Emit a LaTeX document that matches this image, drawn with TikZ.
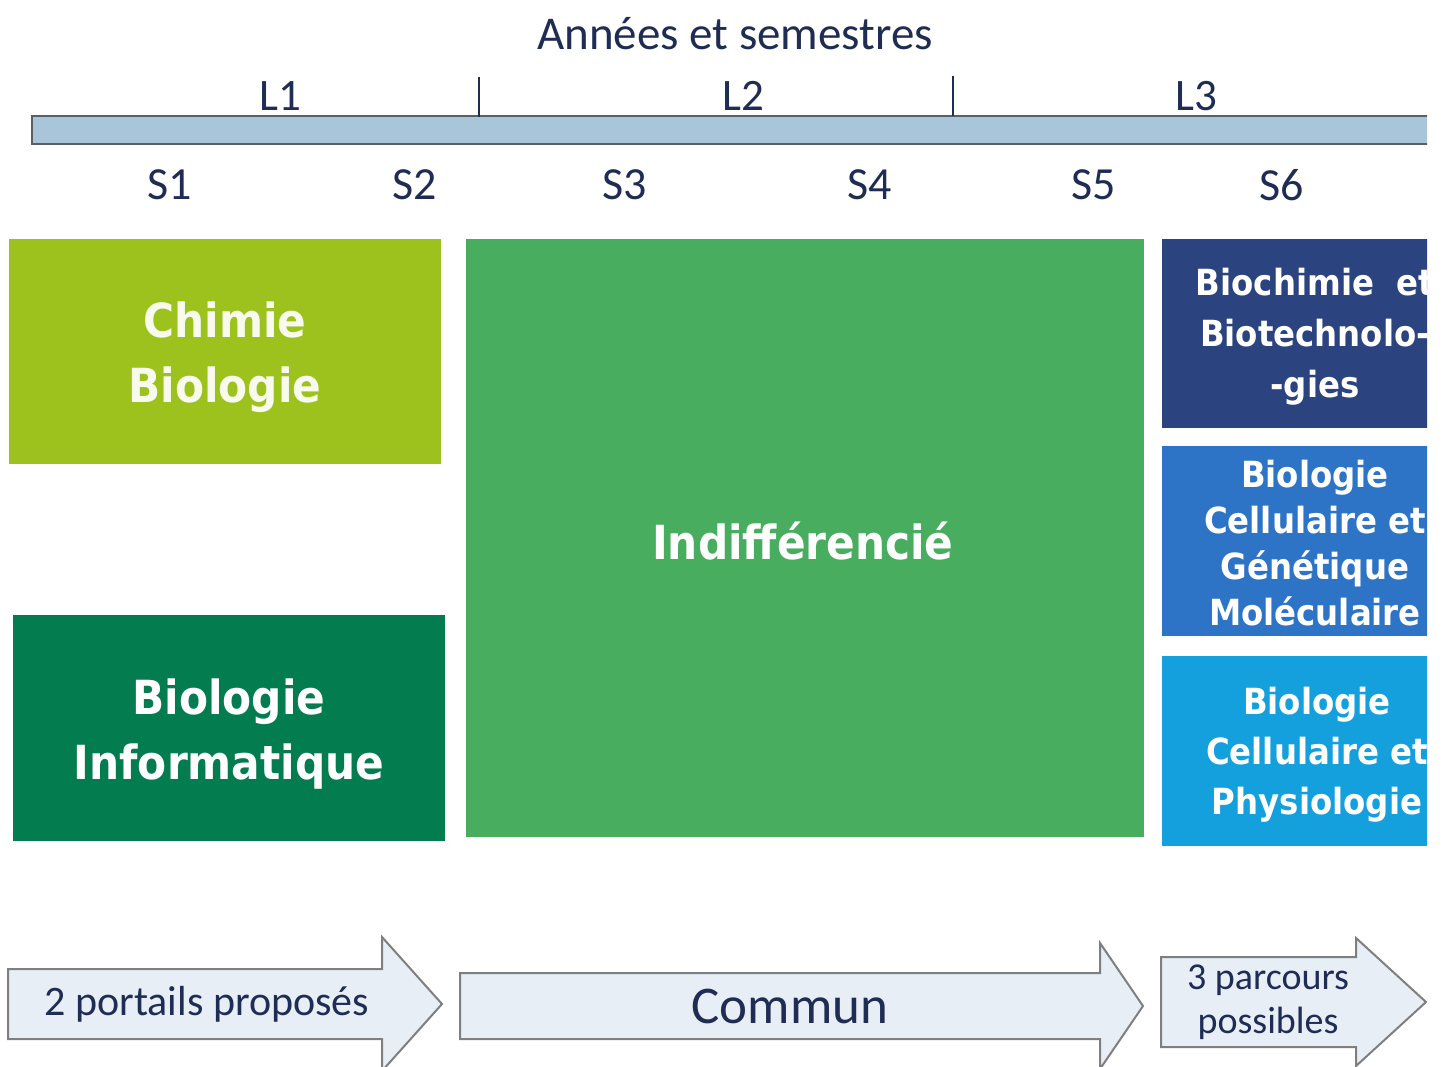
\documentclass[tikz,border=0pt]{standalone}
\usepackage{fontspec}
\setmainfont{Carlito}
\newfontfamily\boxfont{DejaVu Sans Condensed}
\definecolor{navy}{HTML}{1F2D55}
\definecolor{barfill}{HTML}{A8C5DA}
\definecolor{barline}{HTML}{5A5F66}
\definecolor{chimie}{HTML}{9DC21E}
\definecolor{bioinfo}{HTML}{037C50}
\definecolor{indiff}{HTML}{49AD5F}
\definecolor{biochim}{HTML}{2B437F}
\definecolor{bcgm}{HTML}{2D74C7}
\definecolor{bcp}{HTML}{14A0DC}
\definecolor{arrfill}{HTML}{E8EEF6}
\definecolor{arrline}{HTML}{7F7F7F}
\tikzset{
  yearlbl/.style={text=navy, font=\fontsize{22.5}{26}\selectfont, inner sep=0pt},
  semlbl/.style={text=navy, font=\fontsize{23}{27}\selectfont, inner sep=0pt},
  bigbox/.style={text=white, align=center, inner sep=0pt, font=\boxfont\bfseries\fontsize{23.5}{32.5}\selectfont},
  parcbox/.style={text=white, align=center, inner sep=0pt, font=\boxfont\bfseries\fontsize{18}{25.5}\selectfont},
  bigarrow/.style={fill=arrfill, draw=arrline, line width=1pt, line join=miter},
  arrtext/.style={text=navy, align=center, inner sep=0pt},
  tick/.style={draw=navy, line width=1.1pt}
}
\begin{document}
\begin{tikzpicture}[x=0.5pt,y=-0.5pt]
\useasboundingbox (0,0) rectangle (1445,1066);
\begin{scope}
\clip (0,0) rectangle (1427,1066);
% title
\node[text=navy, font=\fontsize{23.5}{28}\selectfont, inner sep=0pt] (title) at (735,34) {Années et semestres};
% timeline bar
\draw[fill=barfill, draw=barline, line width=0.9pt] (32,116) rectangle (1480,144);
\coordinate (t1a) at (479,77); \coordinate (t1b) at (479,117);
\coordinate (t2a) at (953,76); \coordinate (t2b) at (953,116);
\draw[tick] (t1a) -- (t1b);
\draw[tick] (t2a) -- (t2b);
\node[yearlbl] (L1) at (280,96) {L1};
\node[yearlbl] (L2) at (743,96) {L2};
\node[yearlbl] (L3) at (1196,96) {L3};
\node[semlbl] (S1) at (170,185) {S1};
\node[semlbl] (S2) at (415,185) {S2};
\node[semlbl] (S3) at (625,185) {S3};
\node[semlbl] (S4) at (870,185) {S4};
\node[semlbl] (S5) at (1094,185) {S5};
\node[semlbl] (S6) at (1282,185) {S6};
% boxes
\fill[chimie] (9,239) rectangle (441,464);
\node[bigbox, text=white!92!chimie] (chim) at (225,357) {Chimie\\Biologie};
\fill[bioinfo] (13,615) rectangle (445,841);
\node[bigbox] (binf) at (229,734) {Biologie\\Informatique};
\fill[indiff] (466,239) rectangle (1144,837);
\node[bigbox] (ind) at (803,541) {Indifférencié};
\fill[biochim] (1162,239) rectangle (1468,428);
\node[parcbox] (pbb) at (1315,337) {Biochimie\ \ et\\Biotechnolo-\\-gies};
\fill[bcgm] (1162,446) rectangle (1468,636);
\node[parcbox, font=\boxfont\bfseries\fontsize{18}{23}\selectfont] (pgm) at (1315,543) {Biologie\\Cellulaire et\\Génétique\\Moléculaire};
\fill[bcp] (1162,656) rectangle (1468,846);
\node[parcbox, font=\boxfont\bfseries\fontsize{18}{25}\selectfont] (pph) at (1317,755) {Biologie\\Cellulaire et\\Physiologie};
% bottom arrows
\draw[bigarrow] (8,969) -- (382,969) -- (382,937) -- (442,1004) -- (382,1071) -- (382,1039) -- (8,1039) -- cycle;
\node[arrtext, font=\fontsize{21}{25}\selectfont] (a1) at (207,1004) {2 portails proposés};
\draw[bigarrow] (460,973) -- (1100,973) -- (1100,943) -- (1143,1006) -- (1100,1069) -- (1100,1039) -- (460,1039) -- cycle;
\node[arrtext, font=\fontsize{26.5}{30}\selectfont] (a2) at (790,1006) {Commun};
\draw[bigarrow] (1161,957) -- (1356,957) -- (1356,938) -- (1426,1002) -- (1356,1066) -- (1356,1047) -- (1161,1047) -- cycle;
\node[arrtext, font=\fontsize{19}{22}\selectfont] (a3) at (1268,1002) {3 parcours\\possibles};
\end{scope}
\end{tikzpicture}
\end{document}
